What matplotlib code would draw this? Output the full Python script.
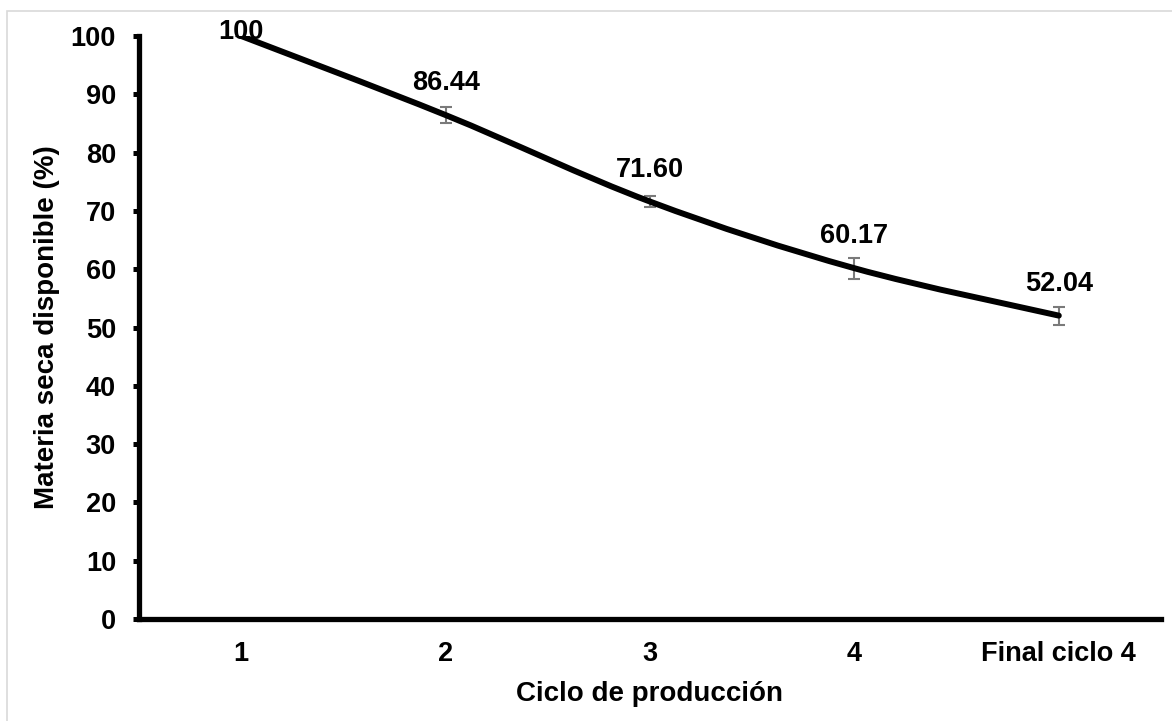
import matplotlib
matplotlib.use("Agg")
import matplotlib.pyplot as plt
from matplotlib.path import Path
from matplotlib.patches import PathPatch, Rectangle

categories = ["1", "2", "3", "4", "Final ciclo 4"]
values = [100, 86.44, 71.60, 60.17, 52.04]
errors = [0.0, 1.3, 0.9, 1.8, 1.55]
value_labels = ["100", "86.44", "71.60", "60.17", "52.04"]
y_ticks = [0, 10, 20, 30, 40, 50, 60, 70, 80, 90, 100]

plt.rcParams['font.family'] = ['Liberation Sans', 'DejaVu Sans']
plt.rcParams['font.weight'] = 'bold'

W, H = 1172, 721
fig = plt.figure(figsize=(W / 100, H / 100), dpi=100)
fig.patch.set_facecolor('white')

# outer chart border (light gray, left and top visible)
fig.patches.append(Rectangle((6.5 / W, -0.05), 1.2, 1 - 11.5 / H + 0.05,
                             transform=fig.transFigure, fill=False,
                             edgecolor='#d9d9d9', linewidth=1.2, zorder=0))

ax = fig.add_axes([139 / W, 1 - 619 / H, (1161 - 139) / W, (619 - 36) / H])
x = list(range(len(categories)))

# smoothed line (Excel-like Bezier smoothing through data points)
n = len(x)
verts = [(x[0], values[0])]
codes = [Path.MOVETO]
for i in range(n - 1):
    p0 = (x[max(i - 1, 0)], values[max(i - 1, 0)])
    p1 = (x[i], values[i])
    p2 = (x[i + 1], values[i + 1])
    p3 = (x[min(i + 2, n - 1)], values[min(i + 2, n - 1)])
    c1 = (p1[0] + (p2[0] - p0[0]) / 6, p1[1] + (p2[1] - p0[1]) / 6)
    c2 = (p2[0] - (p3[0] - p1[0]) / 6, p2[1] - (p3[1] - p1[1]) / 6)
    verts += [c1, c2, p2]
    codes += [Path.CURVE4] * 3
ax.add_patch(PathPatch(Path(verts, codes), fill=False, edgecolor='black',
                       linewidth=4.3, capstyle='round', joinstyle='round',
                       zorder=3, transform=ax.transData))

ax.errorbar(x, values, yerr=errors, fmt='none', ecolor='#7a7a7a',
            elinewidth=1.5, capsize=4.3, capthick=1.5, zorder=2)

for i, (v, lab) in enumerate(zip(values, value_labels)):
    off = 23 if i > 0 else 3
    ax.annotate(lab, (x[i], v), xytext=(0, off), textcoords='offset points',
                ha='center', va='center', fontsize=19.5, fontweight='bold',
                zorder=5, annotation_clip=False)

ax.set_xlim(-0.5, len(categories) - 0.5)
ax.set_ylim(0, 100)
ax.set_xticks(x)
ax.set_xticklabels(categories)
ax.set_yticks(y_ticks)
ax.set_yticklabels([str(t) for t in y_ticks])

for s in ['top', 'right']:
    ax.spines[s].set_visible(False)
for s in ['left', 'bottom']:
    ax.spines[s].set_linewidth(3.8)
    ax.spines[s].set_color('black')

ax.tick_params(axis='y', length=4.5, width=3.6, pad=12, labelsize=19.5, direction='out')
ax.tick_params(axis='x', length=0, pad=16, labelsize=19.5)
for t in ax.get_xticklabels() + ax.get_yticklabels():
    t.set_fontweight('bold')

ax.set_xlabel("Ciclo de producción", fontsize=20, fontweight='bold', labelpad=10)
ax.set_ylabel("Materia seca disponible (%)", fontsize=20, fontweight='bold', labelpad=8)

fig.savefig("out.png", dpi=100, facecolor='white')
